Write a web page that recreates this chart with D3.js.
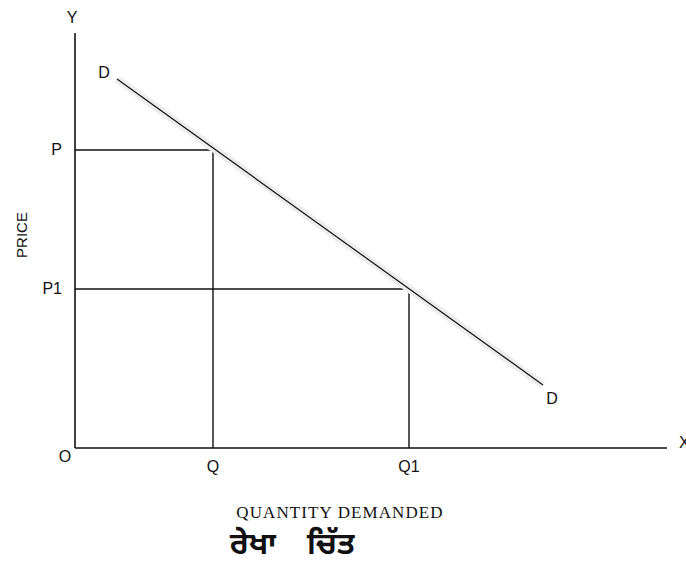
<!DOCTYPE html>
<html>
<head>
<meta charset="utf-8">
<script src="https://cdn.jsdelivr.net/npm/d3@7"></script>
<style>
  html, body { margin: 0; padding: 0; background: #fff; }
  svg { display: block; }
</style>
</head>
<body>
<div id="chart"></div>
<script>
// ---- data (arbitrary units) ----
const quantityLabels = ["Q", "Q1"];
const quantities = [138, 334];
const priceLabels = ["P", "P1"];
const prices = [298, 159];
const demandQuantities = [42, 468];
const demandPrices = [369, 63];
const demandLabels = ["D", "D"];
const axisMax = { x: 592, y: 415 };
const xAxisTitle = "QUANTITY DEMANDED";
const yAxisTitle = "PRICE";
const captionWords = ["ਰੇਖਾ", "ਚਿੱਤ"];

const W = 686, H = 565;
const svg = d3.select("#chart").append("svg").attr("width", W).attr("height", H);

const x = d3.scaleLinear().domain([0, 600]).range([75, 675]);
const y = d3.scaleLinear().domain([0, 415]).range([448, 33]);

const labelFont = "'Liberation Sans', Arial, sans-serif";
const ink = "#111";

// axes
svg.append("line")
  .attr("x1", x(0)).attr("y1", y(0)).attr("x2", x(0)).attr("y2", y(axisMax.y))
  .attr("stroke", ink).attr("stroke-width", 1.6);
svg.append("line")
  .attr("x1", x(0)).attr("y1", y(0)).attr("x2", x(axisMax.x)).attr("y2", y(0))
  .attr("stroke", ink).attr("stroke-width", 1.6);

// guide lines
const pts = quantities.map((q, i) => ({ q, p: prices[i], ql: quantityLabels[i], pl: priceLabels[i] }));
svg.selectAll("line.h").data(pts).enter().append("line")
  .attr("x1", x(0)).attr("x2", d => x(d.q))
  .attr("y1", d => y(d.p)).attr("y2", d => y(d.p))
  .attr("stroke", ink).attr("stroke-width", 1.4);
svg.selectAll("line.v").data(pts).enter().append("line")
  .attr("x1", d => x(d.q)).attr("x2", d => x(d.q))
  .attr("y1", d => y(d.p)).attr("y2", y(0))
  .attr("stroke", ink).attr("stroke-width", 1.4);

// demand curve with faint halo
const demand = demandQuantities.map((q, i) => [q, demandPrices[i]]);
const lineGen = d3.line().x(d => x(d[0])).y(d => y(d[1]));
svg.append("path").attr("d", lineGen(demand))
  .attr("stroke", "#ededed").attr("stroke-width", 8).attr("fill", "none");
svg.append("path").attr("d", lineGen(demand))
  .attr("stroke", ink).attr("stroke-width", 1.2).attr("fill", "none");

// labels
const FS = 16;
const txt = (tx, ty, s, anchor) => svg.append("text")
  .attr("x", tx).attr("y", ty).attr("text-anchor", anchor || "middle")
  .attr("dominant-baseline", "central")
  .attr("font-family", labelFont).attr("font-size", FS).attr("fill", ink).text(s);

txt(x(0) - 3, 17, "Y");
txt(x(0) - 10, y(0) + 8, "O");
txt(679, y(0) - 6, "X", "start");
svg.selectAll("text.ql").data(pts).enter().append("text")
  .attr("x", d => x(d.q)).attr("y", y(0) + 18)
  .attr("text-anchor", "middle").attr("dominant-baseline", "central")
  .attr("font-family", labelFont).attr("font-size", FS).attr("fill", ink)
  .text(d => d.ql);
svg.selectAll("text.pl").data(pts).enter().append("text")
  .attr("x", x(0) - 13).attr("y", d => y(d.p) - 1)
  .attr("text-anchor", "end").attr("dominant-baseline", "central")
  .attr("font-family", labelFont).attr("font-size", FS).attr("fill", ink)
  .text(d => d.pl);
txt(x(demand[0][0]) - 13, y(demand[0][1]) - 7, demandLabels[0]);
txt(x(demand[1][0]) + 9, y(demand[1][1]) + 13, demandLabels[1]);

svg.append("text")
  .attr("transform", "translate(21,235) rotate(-90)")
  .attr("text-anchor", "middle").attr("dominant-baseline", "central")
  .attr("font-family", labelFont).attr("font-size", 15).attr("fill", ink)
  .text(yAxisTitle);

svg.append("text")
  .attr("x", 340).attr("y", 512)
  .attr("text-anchor", "middle").attr("dominant-baseline", "central")
  .attr("font-family", "'Liberation Serif', 'Times New Roman', serif")
  .attr("font-size", 17).attr("letter-spacing", 1.1).attr("fill", ink)
  .text(xAxisTitle);

const capX = [230, 307];
svg.selectAll("text.cap").data(captionWords).enter().append("text")
  .attr("x", (d, i) => capX[i]).attr("y", 546)
  .attr("text-anchor", "start").attr("dominant-baseline", "central")
  .attr("font-family", "'Noto Sans Gurmukhi', 'Lohit Gurmukhi', 'Noto Sans', sans-serif")
  .attr("font-weight", "bold").attr("font-size", 30).attr("fill", ink)
  .text(d => d);
</script>
</body>
</html>
